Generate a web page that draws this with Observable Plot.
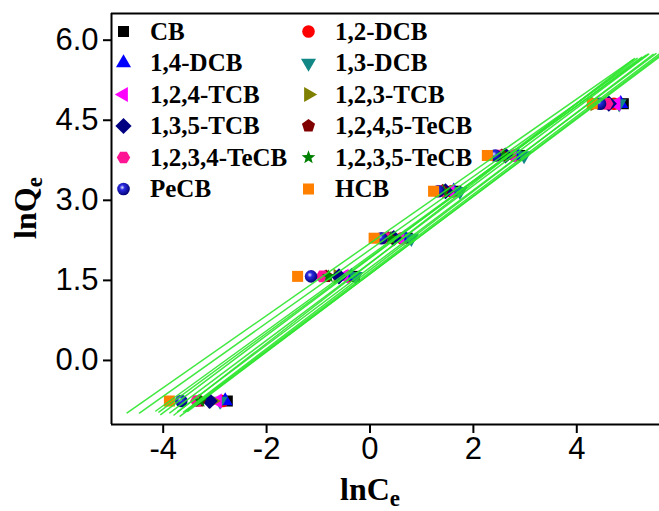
<!DOCTYPE html>
<html>
<head>
<meta charset="utf-8">
<script src="https://cdn.jsdelivr.net/npm/d3@7"></script>
<script src="https://cdn.jsdelivr.net/npm/@observablehq/plot@0.6"></script>
<style>
  html, body { margin: 0; padding: 0; background: #fff; }
  #chart { width: 659px; height: 511px; overflow: hidden; }
</style>
</head>
<body>
<div id="chart"></div>
<script>
// ---- data ----
const seriesNames = ["CB", "1,2-DCB", "1,4-DCB", "1,3-DCB", "1,2,4-TCB", "1,2,3-TCB",
  "1,3,5-TCB", "1,2,4,5-TeCB", "1,2,3,4-TeCB", "1,2,3,5-TeCB", "PeCB", "HCB"];
const lnQe = [-0.76, 1.575, 2.29, 3.17, 3.84, 4.81];
const lnCe_CB      = [-2.76, -0.30, 0.72, 1.66, 2.90, 4.90];
const lnCe_12DCB   = [-2.85, -0.42, 0.62, 1.58, 2.80, 4.72];
const lnCe_14DCB   = [-2.80, -0.36, 0.68, 1.62, 2.86, 4.85];
const lnCe_13DCB   = [-2.90, -0.28, 0.80, 1.74, 2.98, 4.82];
const lnCe_124TCB  = [-2.95, -0.50, 0.58, 1.55, 2.75, 4.76];
const lnCe_123TCB  = [-3.05, -0.62, 0.50, 1.48, 2.68, 4.35];
const lnCe_135TCB  = [-3.10, -0.60, 0.46, 1.46, 2.62, 4.62];
const lnCe_1245TeCB = [-3.30, -0.85, 0.36, 1.40, 2.55, 4.55];
const lnCe_1234TeCB = [-3.35, -0.92, 0.32, 1.36, 2.50, 4.58];
const lnCe_1235TeCB = [-3.28, -0.80, 0.40, 1.42, 2.58, 4.40];
const lnCe_PeCB    = [-3.65, -1.14, 0.22, 1.32, 2.42, 4.45];
const lnCe_HCB     = [-3.88, -1.40, 0.08, 1.23, 2.27, 4.30];
const xTicks = [-4, -2, 0, 2, 4];
const yTicks = [0, 1.5, 3, 4.5, 6];
const xDomain = [-5, 5.6];
const yDomain = [-1.2, 6.5];

const seriesX = [lnCe_CB, lnCe_12DCB, lnCe_14DCB, lnCe_13DCB, lnCe_124TCB, lnCe_123TCB,
  lnCe_135TCB, lnCe_1245TeCB, lnCe_1234TeCB, lnCe_1235TeCB, lnCe_PeCB, lnCe_HCB];

// ---- styles ----
function poly(n, rot, k) {
  return {draw(ctx, size) {
    const r = Math.sqrt(size / Math.PI) * k;
    for (let i = 0; i < n; i++) {
      const a = rot + i * 2 * Math.PI / n;
      const x = r * Math.cos(a), y = r * Math.sin(a);
      if (i) ctx.lineTo(x, y); else ctx.moveTo(x, y);
    }
    ctx.closePath();
  }};
}
function star(k) {
  return {draw(ctx, size) {
    const R = Math.sqrt(size / Math.PI) * k, r = R * 0.42;
    for (let i = 0; i < 10; i++) {
      const a = -Math.PI / 2 + i * Math.PI / 5;
      const rr = i % 2 ? r : R;
      const x = rr * Math.cos(a), y = rr * Math.sin(a);
      if (i) ctx.lineTo(x, y); else ctx.moveTo(x, y);
    }
    ctx.closePath();
  }};
}
const circleSym = {draw(ctx, size) { const r = Math.sqrt(size / Math.PI) * 1.05; ctx.moveTo(r, 0); ctx.arc(0, 0, r, 0, 2 * Math.PI); }};
const PI = Math.PI;
const symbols = [
  poly(4, PI / 4, 1.3),        // CB square
  circleSym,                   // 1,2-DCB circle
  poly(3, -PI / 2, 1.45),      // 1,4-DCB triangle up
  poly(3, PI / 2, 1.45),       // 1,3-DCB triangle down
  poly(3, PI, 1.45),           // 1,2,4-TCB triangle left
  poly(3, 0, 1.45),            // 1,2,3-TCB triangle right
  poly(4, -PI / 2, 1.35),      // 1,3,5-TCB diamond
  poly(5, -PI / 2, 1.15),      // 1,2,4,5-TeCB pentagon
  poly(6, 0, 1.12),            // 1,2,3,4-TeCB hexagon
  star(1.2),                   // 1,2,3,5-TeCB star
  circleSym,                   // PeCB sphere
  poly(4, PI / 4, 1.3)         // HCB square
];
const colors = ["#000000", "#ff0000", "#0000ff", "#138686", "#ff00ff", "#808000",
  "#000080", "#800000", "#ff1493", "#008000", "url(#sphereGrad)", "#ff8000"];

// ---- regression lines (computed from the data) ----
function fit(xs, ys) {
  const n = xs.length, mx = d3.mean(xs), my = d3.mean(ys);
  let sxy = 0, sxx = 0;
  for (let i = 0; i < n; i++) { sxy += (xs[i] - mx) * (ys[i] - my); sxx += (xs[i] - mx) ** 2; }
  const m = sxy / sxx, b = my - m * mx;
  const [lo, hi] = d3.extent(xs), pad = (hi - lo) * 0.1;
  return [lo - pad, hi + pad].map(x => ({x, y: m * x + b}));
}

const marks = [];
seriesX.forEach((xs, i) => {
  const pts = xs.map((x, j) => ({x, y: lnQe[j]}));
  marks.push(Plot.dot(pts, {x: "x", y: "y", r: 6, symbol: symbols[i], fill: colors[i], stroke: "none"}));
});
seriesX.forEach((xs) => {
  marks.push(Plot.line(fit(xs, lnQe), {x: "x", y: "y", stroke: "#2ee62e", strokeWidth: 1.5, strokeOpacity: 0.9}));
});

// legend inside the frame
seriesNames.forEach((name, i) => {
  const col = i % 2, row = Math.floor(i / 2);
  const dy = 18 + row * 31.5;
  const mdx = col ? 197 : 12, tdx = col ? 223.5 : 38.5;
  marks.push(Plot.dot([name], {frameAnchor: "top-left", dx: mdx, dy, r: 6, symbol: symbols[i], fill: colors[i], stroke: "none"}));
  marks.push(Plot.text([name], {frameAnchor: "top-left", lineAnchor: "middle", dx: tdx, dy, text: d => d, textAnchor: "start",
    fontFamily: "'Liberation Serif', 'Times New Roman', serif", fontWeight: "bold", fontSize: 25, fill: "#000"}));
});

// axes and frame lines
marks.push(Plot.ruleX([xDomain[0]], {stroke: "#000", strokeWidth: 2}));
marks.push(Plot.ruleY([yDomain[0], yDomain[1]], {stroke: "#000", strokeWidth: 2}));
marks.push(Plot.axisX({ticks: xTicks, tickFormat: d => String(d), tickSize: 9, tickPadding: 3,
  fontSize: 31, strokeWidth: 2, label: null, fontFamily: "'Liberation Sans', Arial, sans-serif", fill: "#000"}));
marks.push(Plot.axisY({ticks: yTicks, tickFormat: d => d.toFixed(1), tickSize: 8, tickPadding: 5,
  fontSize: 31, strokeWidth: 2, label: null, fontFamily: "'Liberation Sans', Arial, sans-serif", fill: "#000"}));

const chart = Plot.plot({
  width: 659, height: 511,
  marginLeft: 111, marginRight: 0, marginTop: 13, marginBottom: 87,
  x: {domain: xDomain},
  y: {domain: yDomain},
  style: {background: "#fff", color: "#000"},
  marks
});
document.getElementById("chart").appendChild(chart);

// gradient for the PeCB sphere
const svg = d3.select(chart);
const defs = svg.insert("defs", ":first-child");
const g = defs.append("radialGradient").attr("id", "sphereGrad").attr("cx", "40%").attr("cy", "38%").attr("r", "65%");
g.append("stop").attr("offset", "0%").attr("stop-color", "#e8e8ff");
g.append("stop").attr("offset", "30%").attr("stop-color", "#2a2ae0");
g.append("stop").attr("offset", "100%").attr("stop-color", "#000070");

// axis titles with subscripts
const serif = "'Liberation Serif', 'Times New Roman', serif";
const xt = svg.append("text").attr("x", 370).attr("y", 500).attr("text-anchor", "middle")
  .attr("font-family", serif).attr("font-weight", "bold").attr("font-size", 32).attr("fill", "#000");
xt.append("tspan").text("lnC");
xt.append("tspan").attr("font-size", 23).attr("dy", 6).text("e");
const yt = svg.append("text").attr("transform", "translate(36,208) rotate(-90)").attr("text-anchor", "middle")
  .attr("font-family", serif).attr("font-weight", "bold").attr("font-size", 32).attr("fill", "#000");
yt.append("tspan").text("lnQ");
yt.append("tspan").attr("font-size", 23).attr("dy", 6).text("e");
</script>
</body>
</html>
